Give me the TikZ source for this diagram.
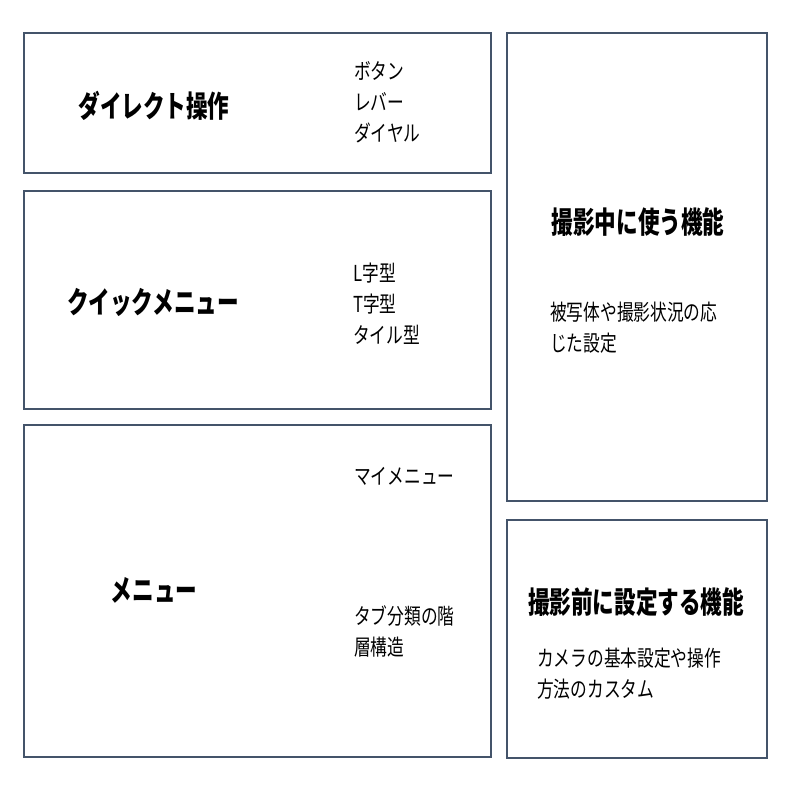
\documentclass[tikz,border=0pt]{standalone}
\usepackage{fontspec}
\setmainfont{Noto Sans CJK JP}[FakeStretch=0.76]
\newfontfamily\ttlfont{Noto Sans CJK JP}[FakeStretch=0.72]
\definecolor{edge}{HTML}{44546A}
\tikzset{%
    panel/.style={draw=edge,line width=2pt,inner sep=0pt},
    ttl/.style={inner sep=0pt,font=\ttlfont\fontsize{30}{34}\selectfont\bfseries},
    lst/.style={inner sep=0pt,anchor=west,align=left,font=\fontsize{22}{31}\selectfont}
}

\begin{document}
\begin{tikzpicture}[x=1pt,y=-1pt]
            \useasboundingbox[fill=white] (0,0) rectangle (796,796);

            \node[panel,minimum width=467pt,minimum height=140pt] (p1) at (257.5,103){};
            \node[panel,minimum width=467pt,minimum height=218.5pt] (p2) at (257.5,299.75){};
            \node[panel,minimum width=467pt,minimum height=332.5pt] (p3) at (257.5,591){};
            \node[panel,minimum width=260pt,minimum height=467.5pt] (p4) at (637,266.75){};
            \node[panel,minimum width=260pt,minimum height=237.5pt] (p5) at (637,638.75){};

            \node[ttl] (t1) at (154,106){ダイレクト操作};
            \node[ttl] (t2) at (153,302){クイックメニュー};
            \node[ttl] (t3) at (154,590){メニュー};
            \node[ttl] (t4) at (638,222){撮影中に使う機能};
            \node[ttl] (t5) at (636,602){撮影前に設定する機能};

            \node[lst] (l1) at (354,102){ボタン\\レバー\\ダイヤル};
            \node[lst] (l2) at (353,303.5){L字型\\T字型\\タイル型};
            \node[lst] (l3) at (354,476){マイメニュー};
            \node[lst] (l4) at (354,631){タブ分類の階\\層構造};
            \node[lst] (l5) at (550,327.5){被写体や撮影状況の応\\じた設定};
            \node[lst] (l6) at (537,673.5){カメラの基本設定や操作\\方法のカスタム};
        \end{tikzpicture}
\end{document}
